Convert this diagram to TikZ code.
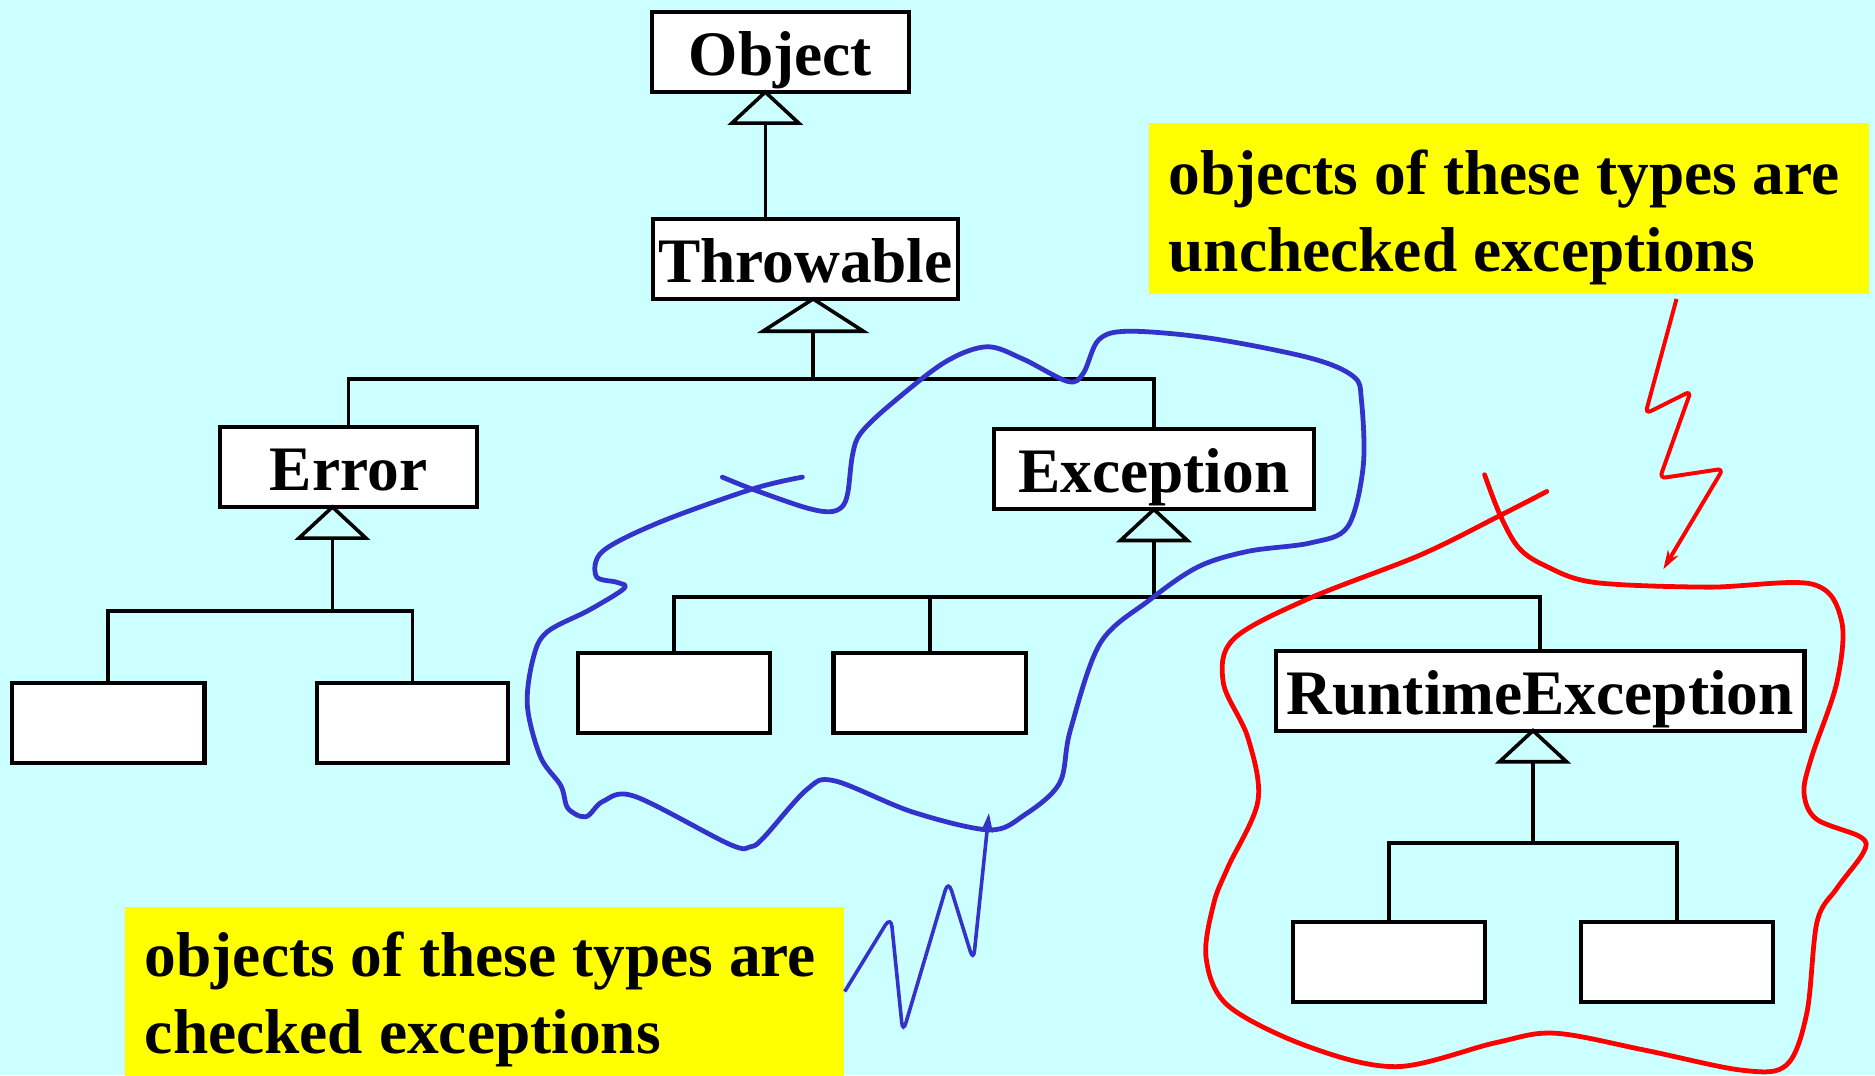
\documentclass[tikz,border=0pt]{standalone}
\usepackage{fontspec}
\setmainfont{Liberation Serif}
\usetikzlibrary{calc,arrows.meta}
\definecolor{bgcyan}{RGB}{204,255,255}
\definecolor{curveblue}{RGB}{51,51,204}
\definecolor{hlyellow}{RGB}{255,255,0}
\definecolor{curvered}{RGB}{255,0,0}
\begin{document}
\begin{tikzpicture}[x=1pt,y=-1pt,
  classbox/.style={draw=black,line width=3.4pt,fill=white,inner sep=0pt,minimum height=67pt,text height=39pt,text depth=0pt,font=\fontsize{53}{63}\selectfont\bfseries},
  conn/.style={line width=3pt,line join=miter},
  note/.style={fill=hlyellow,inner sep=0pt,anchor=north west},
  notetext/.style={anchor=base west,inner sep=0pt,font=\fontsize{53}{63}\selectfont\bfseries},
  blueline/.style={curveblue,line width=4pt,line cap=round,line join=round},
  redline/.style={curvered,line width=4pt,line cap=round,line join=round},
  inhtri/.style={conn,line join=miter}]
\fill[bgcyan] (0,0) rectangle (1568,899);
\useasboundingbox (0,0) rectangle (1568,899);

% class boxes
\node[classbox,minimum width=215pt] (object) at (652.5,43.5) {Object};
\node[classbox,minimum width=255pt] (throwable) at (673.5,216.5) {Throwable};
\node[classbox,minimum width=215pt] (error) at (291.5,390.5) {Error};
\node[classbox,minimum width=268pt] (exception) at (965,392.5) {Exception};
\node[classbox,minimum width=442pt] (runtime) at (1288,578) {RuntimeException};
\node[classbox,minimum width=161pt] (e1) at (90.5,604.5) {};
\node[classbox,minimum width=160pt] (e2) at (345,604.5) {};
\node[classbox,minimum width=161pt] (c1) at (563.5,579.5) {};
\node[classbox,minimum width=161pt] (c2) at (777.5,579.5) {};
\node[classbox,minimum width=161pt] (r1) at (1161.5,804.5) {};
\node[classbox,minimum width=161pt] (r2) at (1402.5,804.5) {};

% triangle apexes and junctions
\coordinate (a1) at (640,77);
\coordinate (a2) at (680,250);
\coordinate (a3) at (278,424);
\coordinate (a4) at (965,426);
\coordinate (a5) at (1282,611);
\coordinate (j1) at (680,317);
\coordinate (j2) at (278,511);
\coordinate (j3) at (965,499);
\coordinate (j4) at (1282,705);

\foreach \p in {a1,a3,a4,a5}
  \draw[inhtri] (\p) -- ++(-28,26) -- ++(56,0) -- cycle;
\draw[inhtri] (a2) -- ++(-42,27) -- ++(84,0) -- cycle;

\draw[conn] ($(a1)+(0,26)$) -- (a1 |- throwable.north);
\draw[conn] ($(a2)+(0,27)$) -- (j1);
\draw[conn] (error.north) |- (j1) -| (exception.north);
\draw[conn] ($(a3)+(0,26)$) -- (j2);
\draw[conn] (e1.north) |- (j2) -| (e2.north);
\draw[conn] ($(a4)+(0,26)$) -- (j3);
\draw[conn] (c1.north) |- (j3) -| (runtime.north);
\draw[conn] (c2.north) -- (c2.north |- j3);
\draw[conn] ($(a5)+(0,26)$) -- (j4);
\draw[conn] (r1.north) |- (j4) -| (r2.north);

% notes
\node[note,minimum width=602pt,minimum height=143pt] (unchecked) at (961,103) {};
\node[notetext] (unchecked1) at (977,163) {objects of these types are};
\node[notetext] (unchecked2) at (977,227) {unchecked exceptions};
\node[note,minimum width=602pt,minimum height=142pt] (checked) at (104,758) {};
\node[notetext] (checked1) at (121,817) {objects of these types are};
\node[notetext] (checked2) at (121,881) {checked exceptions};

% blue outline (checked)
\draw[blueline] plot[smooth,tension=0.55] coordinates {
 (604,399) (629,409) (672,424) (693,428) (704,424) (709,412) (713,380) (720,362)
 (745,338) (790,303) (825,290) (855,300) (893,319) (906,312) (919,284) (945,277)
 (1013,283) (1096,299.5) (1132,315) (1138.5,334.5) (1140,390) (1127,440.5)
 (1096,454) (1044,461) (1002,474) (961,502) (920,538) (895,611) (886,655)
 (856,682) (827,694) (763,679) (698,653) (675,660) (639,700) (628,708) (610,706)
 (531,666) (504.5,670) (490,683) (475,676) (469,657) (452,633) (441,590)
 (446,550) (457.5,528.5) (493,510) (522,492) (516,487) (498.6,482) (504,461)
 (551,437) (629,409) (671,399)};

% red outline (unchecked)
\draw[redline] plot[smooth,tension=0.55] coordinates {
 (1241.5,397) (1254.6,431) (1270,458) (1292,473) (1333,487) (1428,491)
 (1515.5,488.5) (1540,519) (1536,571) (1515,633) (1508.6,663) (1519,685)
 (1556,700) (1558.5,712.5) (1536,743) (1519.5,771) (1511,847) (1494,890.6)
 (1457,895) (1374.6,878) (1300,864) (1250.6,872) (1168,892) (1093.5,875)
 (1027,841) (1008.6,801) (1015,755.5) (1027,725) (1052,669.6) (1043.6,617)
 (1023,571) (1031.5,534.5) (1093.5,501) (1188,464) (1254.6,431) (1293.5,411)};

% arrows
\coordinate (bluetip) at (827,680);
\draw[curveblue,line width=3pt,rounded corners=9pt,-{Stealth[length=16pt,width=10pt]}]
  (checked.east) -- (745,766) -- (755,864) -- (793,736) -- (814,804) -- (bluetip);
\coordinate (rstart) at (1402,250);
\coordinate (redtip) at (1391,476);
\draw[curvered,line width=3.3pt,rounded corners=5pt,-{Stealth[length=16pt,width=10pt]}]
  (rstart) -- (1376,346) -- (1414,327) -- (1388,400) -- (1441,392) -- (redtip);
\end{tikzpicture}
\end{document}
